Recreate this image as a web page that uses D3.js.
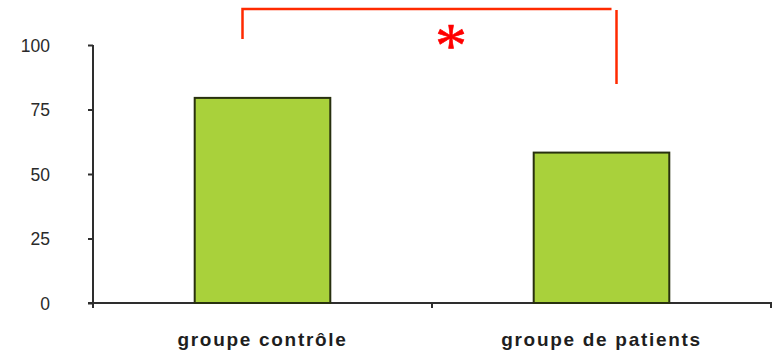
<!DOCTYPE html>
<html>
<head>
<meta charset="utf-8">
<script src="https://cdn.jsdelivr.net/npm/d3@7"></script>
<style>
  html, body { margin: 0; padding: 0; background: #fff; }
  svg { display: block; }
</style>
</head>
<body>
<svg id="chart" width="776" height="352"></svg>
<script>
// Groups and their scores
const categories = ["groupe contrôle", "groupe de patients"];
const values = [79.5, 58.3];
const yTicks = [0, 25, 50, 75, 100];
const significance = "*";

(function () {
  const svg = d3.select("#chart");
  const plotLeft = 93, plotRight = 771, plotTop = 45, plotBottom = 303;

  const x = d3.scaleBand().domain(categories).range([plotLeft, plotRight]).paddingInner(0.6).paddingOuter(0.3);
  const y = d3.scaleLinear().domain([0, 100]).range([plotBottom, plotTop]);

  const axisColor = "#2e2e2e";
  const font = "'Liberation Sans', Arial, sans-serif";

  // Y axis
  const yAxis = svg.append("g")
    .attr("transform", `translate(${plotLeft},0)`)
    .call(d3.axisLeft(y).tickValues(yTicks).tickSize(5).tickPadding(38));
  yAxis.select(".domain").attr("stroke", axisColor).attr("stroke-width", 2)
    .attr("d", `M0,${plotTop}V${plotBottom + 5}`);
  yAxis.selectAll(".tick line").attr("stroke", axisColor).attr("stroke-width", 2);
  yAxis.selectAll(".tick text").attr("fill", "#2a2a2a").attr("dy", "0.36em")
    .style("font-family", font).style("font-size", "17.5px");

  // X axis with ticks at the group boundaries
  const boundaries = [plotLeft, (x(categories[0]) + x.bandwidth() + x(categories[1])) / 2, plotRight];
  svg.append("line").attr("x1", plotLeft - 5).attr("x2", plotRight + 1).attr("y1", plotBottom).attr("y2", plotBottom)
    .attr("stroke", axisColor).attr("stroke-width", 2);
  svg.selectAll(".xtick").data(boundaries.slice(1)).join("line")
    .attr("x1", d => d).attr("x2", d => d).attr("y1", plotBottom).attr("y2", plotBottom + 5)
    .attr("stroke", axisColor).attr("stroke-width", 2);

  svg.selectAll(".xlabel").data(categories).join("text")
    .attr("x", d => x(d) + x.bandwidth() / 2).attr("y", 346)
    .attr("text-anchor", "middle").attr("fill", "#1e1e1e")
    .style("font-family", font).style("font-size", "19px").style("font-weight", "bold")
    .style("letter-spacing", "1.7px")
    .text(d => d);

  // Bars
  svg.selectAll(".bar").data(values).join("rect")
    .attr("x", (d, i) => x(categories[i]))
    .attr("y", d => y(d))
    .attr("width", x.bandwidth())
    .attr("height", d => y(0) - y(d))
    .attr("fill", "#a9d13b").attr("stroke", "#28300f").attr("stroke-width", 2);

  // Significance bracket between the two groups
  const red = "#ff2a00";
  const bx1 = x(categories[0]) + x.bandwidth() / 2 - 20;
  const bx2 = x(categories[1]) + x.bandwidth() / 2 + 15;
  const by = 9;
  svg.append("path")
    .attr("d", `M${bx1},39V${by}H${bx2 - 5}`)
    .attr("fill", "none").attr("stroke", red).attr("stroke-width", 2.5);
  svg.append("line").attr("x1", bx2).attr("x2", bx2).attr("y1", by + 1).attr("y2", 84)
    .attr("stroke", red).attr("stroke-width", 2.5);
  svg.append("text")
    .attr("x", 451).attr("y", 67)
    .attr("text-anchor", "middle").attr("fill", "#ff0000")
    .attr("stroke", "#ff0000").attr("stroke-width", 0.6)
    .style("font-family", "'Liberation Serif', 'Times New Roman', serif").style("font-size", "64px")
    .text(significance);
})();
</script>
</body>
</html>
